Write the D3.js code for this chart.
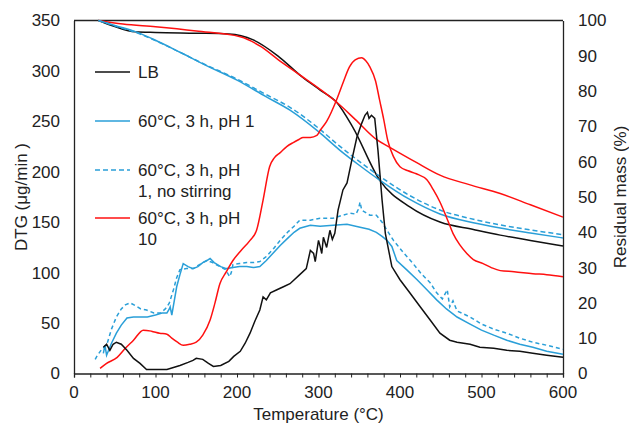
<!DOCTYPE html>
<html>
<head>
<meta charset="utf-8">
<script src="https://cdn.jsdelivr.net/npm/d3@7"></script>
<style>
  body { margin: 0; background: #fff; }
  text { font-family: "Liberation Sans", Arial, sans-serif; fill: #222; }
</style>
</head>
<body>
<svg id="svg"></svg>
<script>
// temperature ticks and labels
const xTicks = [0, 100, 200, 300, 400, 500, 600];
const dtgTicks = [0, 50, 100, 150, 200, 250, 300, 350];
const massTicks = [0, 10, 20, 30, 40, 50, 60, 70, 80, 90, 100];

const legendNames = ["LB", "60°C, 3 h, pH 1", "60°C, 3 h, pH|1, no stirring", "60°C, 3 h, pH|10"];

// DTG curves (µg/min)
const lbDtgT = [36, 40, 44, 48, 52, 58, 65, 73, 81, 89, 100, 114, 122, 130, 140, 146, 150, 158, 165, 171, 180, 190, 196, 204, 210, 216, 222, 228, 232, 236, 241, 249, 257, 265, 277, 285, 290, 294, 296, 300, 302, 304, 306, 310, 314, 317, 320, 324, 330, 335, 341, 347, 353, 357, 360, 362, 365, 369, 373, 378, 382, 390, 400, 412, 425, 437, 449, 461, 470, 486, 498, 515, 531, 547, 563, 580, 600];
const lbDtg = [26, 29, 23, 29, 31, 29, 23, 15, 10, 4, 4, 4, 6, 8, 11, 13, 15, 14, 10, 7, 8, 12, 17, 22, 30, 40, 52, 63, 76, 73, 80, 83, 86, 89, 98, 104, 122, 119, 111, 132, 126, 119, 135, 125, 142, 133, 139, 162, 182, 189, 212, 234, 248, 256, 259, 253, 256, 253, 221, 172, 139, 106, 93, 80, 66, 53, 40, 33, 31, 29, 26, 25, 23, 22, 20, 18, 16];

const p1DtgT = [36, 38, 40, 42, 46, 52, 58, 65, 73, 81, 90, 100, 108, 114, 117, 118, 120, 126, 130, 134, 140, 146, 152, 158, 163, 167, 172, 180, 187, 195, 203, 212, 220, 228, 236, 245, 253, 262, 270, 277, 290, 302, 318, 335, 351, 362, 371, 378, 384, 390, 396, 408, 421, 433, 445, 457, 470, 486, 500, 515, 531, 547, 563, 580, 600];
const p1Dtg = [20, 28, 18, 22, 30, 40, 48, 55, 56, 56, 56, 58, 60, 60, 64, 66, 58, 86, 98, 109, 106, 104, 106, 110, 112, 114, 110, 106, 104, 105, 106, 106, 105, 106, 112, 120, 127, 134, 140, 144, 147, 146, 147, 148, 145, 143, 140, 136, 132, 126, 112, 103, 93, 83, 73, 64, 56, 49, 43, 38, 33, 29, 26, 22, 19];

const p1nsDtgT = [26, 28, 34, 40, 46, 52, 58, 63, 69, 76, 82, 89, 98, 106, 112, 114, 117, 122, 126, 130, 138, 146, 154, 163, 170, 179, 186, 191, 193, 195, 203, 212, 220, 228, 236, 245, 253, 262, 270, 277, 290, 302, 318, 330, 339, 346, 349, 351, 353, 357, 363, 371, 378, 384, 392, 404, 416, 426, 437, 445, 452, 458, 461, 465, 470, 486, 500, 515, 531, 547, 563, 580, 600];
const p1nsDtg = [14, 17, 24, 28, 44, 56, 64, 68, 70, 67, 64, 63, 60, 60, 64, 66, 70, 83, 95, 103, 104, 104, 108, 112, 110, 106, 103, 96, 100, 108, 109, 110, 110, 111, 116, 124, 132, 140, 146, 152, 152, 154, 154, 157, 159, 158, 163, 170, 162, 160, 157, 157, 150, 142, 132, 120, 109, 99, 90, 80, 74, 83, 66, 72, 62, 56, 49, 44, 40, 35, 31, 28, 24];

const p10DtgT = [32, 40, 53, 63, 73, 85, 95, 105, 114, 120, 127, 134, 142, 150, 158, 167, 173, 179, 187, 195, 205, 216, 224, 232, 240, 246, 253, 261, 269, 276, 281, 290, 298, 302, 310, 322, 330, 338, 345, 353, 358, 363, 370, 375, 380, 385, 392, 400, 410, 420, 433, 441, 449, 457, 465, 473, 482, 490, 502, 512, 523, 540, 563, 580, 600];
const p10Dtg = [5, 10, 16, 25, 33, 43, 42, 40, 39, 35, 31, 28, 29, 31, 38, 53, 70, 89, 101, 112, 122, 132, 142, 172, 205, 214, 219, 225, 229, 232, 234, 234, 236, 241, 250, 271, 288, 304, 311, 313, 310, 304, 290, 271, 252, 231, 215, 205, 201, 198, 192, 182, 170, 155, 139, 128, 119, 113, 109, 105, 102, 101, 99, 98, 96];

// residual mass curves (%)
const lbMassT = [30, 50, 75, 100, 150, 190, 220, 250, 280, 302, 322, 342, 375, 412, 449, 490, 523, 560, 600];
const lbMass = [100, 98.3, 96.8, 96.6, 96.4, 96.2, 94.5, 90, 84, 80.3, 76.9, 69.8, 54.8, 47.2, 42.9, 40.8, 39.2, 37.7, 36.1];

const p1MassT = [30, 50, 77, 100, 130, 160, 200, 235, 265, 300, 326, 350, 375, 412, 449, 490, 523, 560, 600];
const p1Mass = [100, 98.6, 96.7, 94.4, 91, 87.5, 83.1, 78.5, 74.6, 68.5, 63.3, 59, 54.8, 49.3, 45.2, 42.7, 41.2, 39.8, 38.4];

const p1nsMassT = [30, 50, 77, 100, 130, 160, 200, 235, 265, 300, 326, 350, 375, 412, 449, 490, 523, 560, 600];
const p1nsMass = [100, 98.5, 96.5, 94.3, 91, 87.6, 83.4, 79.1, 75.4, 69.5, 64.4, 60.1, 55.9, 50.4, 46.3, 43.7, 42.1, 40.7, 39.3];

const p10MassT = [30, 60, 100, 150, 204, 230, 250, 277, 302, 322, 345, 371, 388, 420, 449, 485, 523, 560, 600];
const p10Mass = [100, 99, 98.2, 97, 95.4, 92.5, 89, 84.6, 80.5, 76.9, 72, 66.3, 64, 59.8, 56.2, 53.5, 51, 47.8, 44.3];

const svg = d3.select("#svg").attr("width", 629).attr("height", 425);

const x = d3.scaleLinear().domain([0, 600]).range([74, 563]);
const yL = d3.scaleLinear().domain([0, 350]).range([373.5, 20.5]);
const yR = d3.scaleLinear().domain([0, 100]).range([373.5, 20.5]);

const fs = "17px";

// frame: top
svg.append("line").attr("x1", x(0)).attr("x2", x(600)).attr("y1", yL(350)).attr("y2", yL(350))
    .attr("stroke", "#222").attr("stroke-width", 1.3);

// axes
const bottom = svg.append("g").attr("transform", `translate(0,${yL(0)})`)
    .call(d3.axisBottom(x).tickValues(d3.range(0, 601, 20)).tickSize(4).tickFormat(""));
bottom.selectAll("line").attr("stroke", "#222");
bottom.select(".domain").attr("stroke", "#222").attr("stroke-width", 1.3);
bottom.selectAll(null).data(xTicks).enter().append("text")
    .attr("x", d => x(d)).attr("y", 24).attr("text-anchor", "middle")
    .style("font-size", fs).text(d => d);

const left = svg.append("g").attr("transform", `translate(${x(0)},0)`)
    .call(d3.axisLeft(yL).tickValues(dtgTicks).tickSize(0).tickPadding(14));
left.select(".domain").attr("stroke", "#222").attr("stroke-width", 1.3);
left.selectAll("text").style("font-size", fs).style("font-family", "Liberation Sans, Arial, sans-serif").attr("fill", "#222");

const right = svg.append("g").attr("transform", `translate(${x(600)},0)`)
    .call(d3.axisRight(yR).tickValues(massTicks).tickSize(0).tickPadding(15));
right.select(".domain").attr("stroke", "#222").attr("stroke-width", 1.3);
right.selectAll("text").style("font-size", fs).style("font-family", "Liberation Sans, Arial, sans-serif").attr("fill", "#222");

// axis titles
svg.append("text").attr("x", x(300)).attr("y", 420).attr("text-anchor", "middle")
    .style("font-size", fs).text("Temperature (°C)");
svg.append("text").attr("transform", `translate(27,${yL(175)}) rotate(-90)`)
    .attr("text-anchor", "middle").style("font-size", fs).text("DTG (μg/min )");
svg.append("text").attr("transform", `translate(626,${yL(175)}) rotate(-90)`)
    .attr("text-anchor", "middle").style("font-size", fs).text("Residual mass (%)");

const blue = "#2a9fd8";
const red = "#ff1010";

const lineL = d3.line().x(d => x(d[0])).y(d => yL(d[1]));
const smoothL = d3.line().x(d => x(d[0])).y(d => yL(d[1])).curve(d3.curveMonotoneX);
const lineR = d3.line().x(d => x(d[0])).y(d => yR(d[1])).curve(d3.curveMonotoneX);

const series = [
    { t: lbMassT, v: lbMass, gen: lineR, color: "#111", dash: null },
    { t: p10MassT, v: p10Mass, gen: lineR, color: red, dash: null },
    { t: p1nsMassT, v: p1nsMass, gen: lineR, color: blue, dash: "5,3" },
    { t: p1MassT, v: p1Mass, gen: lineR, color: blue, dash: null },
    { t: p1nsDtgT, v: p1nsDtg, gen: lineL, color: blue, dash: "4,3" },
    { t: p1DtgT, v: p1Dtg, gen: lineL, color: blue, dash: null },
    { t: p10DtgT, v: p10Dtg, gen: smoothL, color: red, dash: null },
    { t: lbDtgT, v: lbDtg, gen: lineL, color: "#111", dash: null },
];

series.forEach(s => {
    svg.append("path")
        .datum(d3.zip(s.t, s.v))
        .attr("d", s.gen)
        .attr("fill", "none")
        .attr("stroke", s.color)
        .attr("stroke-width", 1.5)
        .attr("stroke-dasharray", s.dash);
});

// legend
const legendColors = ["#111", blue, blue, red];
const legendDash = [null, null, "5,3", null];
const legendY = [72, 121, 170, 218];
legendNames.forEach((name, i) => {
    svg.append("line").attr("x1", 95).attr("x2", 130)
        .attr("y1", legendY[i]).attr("y2", legendY[i])
        .attr("stroke", legendColors[i]).attr("stroke-width", 1.5)
        .attr("stroke-dasharray", legendDash[i]);
    const t = svg.append("text").attr("x", 138).attr("y", legendY[i] + 6).style("font-size", fs);
    name.split("|").forEach((part, j) => {
        t.append("tspan").attr("x", 138).attr("dy", j === 0 ? 0 : 21).text(part);
    });
});
</script>
</body>
</html>
